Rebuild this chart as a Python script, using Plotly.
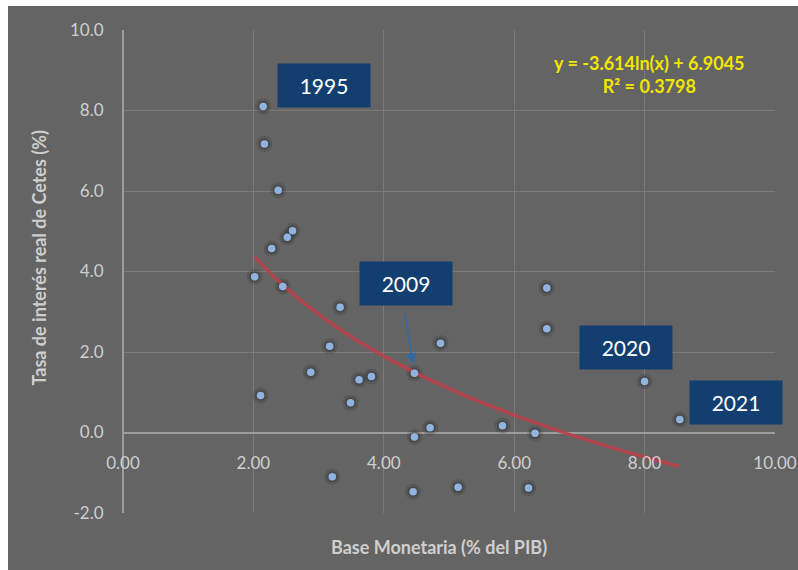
import numpy as np
import plotly.graph_objects as go

# Base monetaria (% del PIB) vs tasa de interés real de Cetes (%), 1993-2021
base_monetaria = [2.15, 2.17, 2.38, 2.60, 2.52, 2.28, 2.02, 2.45,
                  3.33, 3.17, 2.88, 3.62, 3.81, 2.11, 3.49, 3.21,
                  6.50, 6.50, 4.87, 4.47, 8.00, 8.54, 4.71, 5.82,
                  4.47, 6.32, 4.45, 5.14, 6.22]
tasa_real = [8.10, 7.17, 6.02, 5.01, 4.85, 4.57, 3.87, 3.63,
             3.11, 2.14, 1.50, 1.31, 1.39, 0.92, 0.74, -1.10,
             3.59, 2.58, 2.22, 1.47, 1.27, 0.32, 0.12, 0.17,
             -0.11, -0.02, -1.47, -1.36, -1.38]

# Logarithmic trend reported on the chart
trend_a = -3.614
trend_b = 6.9045
r2 = 0.3798

x_ticks = [0, 2, 4, 6, 8, 10]
y_ticks = [-2, 0, 2, 4, 6, 8, 10]

BG = "#646464"
GRID = "#7a7a7a"
TXT = "#cfcfcf"
BOX = "#133f70"
FONT = "Lato, 'Open Sans', sans-serif"

# figure and plot-area geometry in pixels, used to place paper-referenced items
FW, FH = 798, 570
L, T, PW, PH = 123, 30, 652, 483


def paper_x(px):
    return (px - L) / PW


def paper_y(py):
    return (T + PH - py) / PH


x_min, x_max = min(base_monetaria), max(base_monetaria)
trend_x = np.linspace(x_min, x_max, 120)
trend_y = trend_a * np.log(trend_x) + trend_b

fig = go.Figure()

# soft shadow under the points
fig.add_trace(go.Scatter(x=base_monetaria, y=tasa_real, mode="markers",
                         marker=dict(size=16, color="rgba(35,35,35,0.18)"),
                         hoverinfo="skip", showlegend=False))
fig.add_trace(go.Scatter(x=base_monetaria, y=tasa_real, mode="markers",
                         marker=dict(size=11, color="rgba(35,35,35,0.30)"),
                         hoverinfo="skip", showlegend=False))

fig.add_trace(go.Scatter(x=trend_x, y=trend_y, mode="lines",
                         line=dict(color="rgba(190,62,72,0.85)", width=3.5),
                         showlegend=False))

fig.add_trace(go.Scatter(x=base_monetaria, y=tasa_real, mode="markers",
                         marker=dict(size=7.5, color="#91b3e0"),
                         showlegend=False))

axis_common = dict(showgrid=True, gridcolor=GRID, gridwidth=1, automargin=False,
                   showline=False, ticks="outside", tickcolor="rgba(0,0,0,0)",
                   tickfont=dict(family=FONT, size=17, color=TXT),
                   zeroline=True, zerolinecolor="#9c9c9c", zerolinewidth=1.5)

fig.update_layout(
    width=FW, height=FH,
    margin=dict(l=L, r=FW - L - PW, t=T, b=FH - T - PH),
    paper_bgcolor=BG, plot_bgcolor=BG,
    xaxis=dict(range=[0, 10], tickvals=x_ticks,
               ticktext=[f"{v:.2f}" for v in x_ticks],
               anchor="free", position=paper_y(432.7), ticklen=15,
               **axis_common),
    yaxis=dict(range=[-2, 10], tickvals=y_ticks,
               ticktext=[f"{v:.1f}" for v in y_ticks], ticklen=15,
               **axis_common),
    font=dict(family=FONT),
)

# white strips along the top and left edges, kept inside the figure
fig.add_shape(type="rect", xref="paper", yref="paper", layer="below",
              x0=paper_x(0), x1=paper_x(8), y0=paper_y(FH), y1=paper_y(0),
              fillcolor="white", line_width=0)
fig.add_shape(type="rect", xref="paper", yref="paper", layer="below",
              x0=paper_x(0), x1=paper_x(FW), y0=paper_y(6), y1=paper_y(0),
              fillcolor="white", line_width=0)

# axis titles
fig.add_annotation(text="<b>Base Monetaria (% del PIB)</b>", xref="paper", yref="paper",
                   x=paper_x(438.5), y=paper_y(547), xanchor="center", yanchor="middle",
                   showarrow=False, font=dict(family=FONT, size=18, color=TXT))
fig.add_annotation(text="<b>Tasa de interés real de Cetes (%)</b>", xref="paper", yref="paper",
                   x=paper_x(38.5), y=paper_y(258), xanchor="center", yanchor="middle",
                   textangle=-90, showarrow=False,
                   font=dict(family=FONT, size=18, color=TXT))

# trend equation
fig.add_annotation(text=f"<b>y = {trend_a}ln(x) + {trend_b}<br>R² = {r2}</b>",
                   xref="paper", yref="paper", x=paper_x(649), y=paper_y(74),
                   xanchor="center", yanchor="middle",
                   showarrow=False, align="center",
                   font=dict(family=FONT, size=18, color="#f2e600"))

# year labels
year_boxes = [("1995", 3.08, 8.62), ("2009", 4.333, 3.692),
              ("2020", 7.716, 2.115), ("2021", 9.406, 0.745)]
for label, bx, by in year_boxes:
    fig.add_annotation(text=label, x=bx, y=by, showarrow=False,
                       xanchor="center", yanchor="middle",
                       width=92, height=43, bgcolor=BOX, borderpad=0,
                       font=dict(family=FONT, size=21, color="white"))

# arrow to the 2009 point
fig.add_annotation(x=4.448, y=1.706, ax=4.319, ay=2.979, axref="x", ayref="y",
                   text="", showarrow=True, arrowhead=2, arrowsize=1.3,
                   arrowwidth=1.6, arrowcolor="#2f6aa6")

fig.write_html("out.html")
